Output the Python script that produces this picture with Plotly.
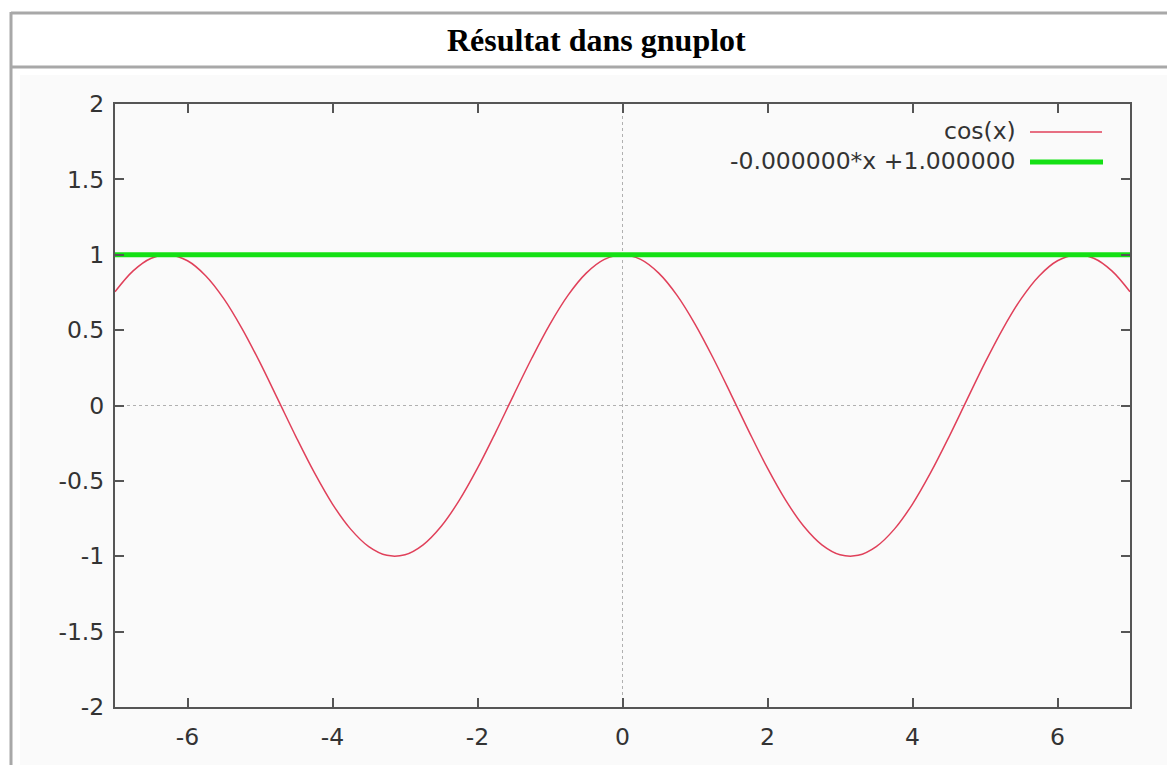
import plotly.graph_objects as go

# cos(x) sampled every 0.25 on [-7, 7]
x_cos = [-7.0, -6.75, -6.5, -6.25, -6.0, -5.75, -5.5, -5.25, -5.0, -4.75, -4.5, -4.25,
         -4.0, -3.75, -3.5, -3.25, -3.0, -2.75, -2.5, -2.25, -2.0, -1.75, -1.5, -1.25,
         -1.0, -0.75, -0.5, -0.25, 0.0, 0.25, 0.5, 0.75, 1.0, 1.25, 1.5, 1.75, 2.0, 2.25,
         2.5, 2.75, 3.0, 3.25, 3.5, 3.75, 4.0, 4.25, 4.5, 4.75, 5.0, 5.25, 5.5, 5.75, 6.0,
         6.25, 6.5, 6.75, 7.0]
y_cos = [0.754, 0.893, 0.977, 0.999, 0.960, 0.861, 0.709, 0.512, 0.284, 0.037, -0.211, -0.446,
         -0.654, -0.820, -0.936, -0.994, -0.990, -0.924, -0.801, -0.628, -0.416, -0.178, 0.071, 0.315,
         0.540, 0.732, 0.878, 0.969, 1.000, 0.969, 0.878, 0.732, 0.540, 0.315, 0.071, -0.178, -0.416, -0.628,
         -0.801, -0.924, -0.990, -0.994, -0.936, -0.820, -0.654, -0.446, -0.211, 0.037, 0.284, 0.512, 0.709, 0.861, 0.960,
         0.999, 0.977, 0.893, 0.754]

# fitted line: -0.000000*x + 1.000000
x_fit = [-7.0, 7.0]
y_fit = [1.0, 1.0]

x_tickvals = [-6, -4, -2, 0, 2, 4, 6]
x_ticktext = ["-6", "-4", "-2", "0", "2", "4", "6"]
y_tickvals = [-2, -1.5, -1, -0.5, 0, 0.5, 1, 1.5, 2]
y_ticktext = ["-2", "-1.5", "-1", "-0.5", "0", "0.5", "1", "1.5", "2"]

legend_labels = ["cos(x)", "-0.000000*x +1.000000"]
title_text = "Résultat dans gnuplot"

W, H = 1167, 765
L, R, T, B = 115, 1130, 104, 707

def px(x):
    return (x - L) / (R - L)

def py(y):
    return (B - y) / (B - T)

RED = "#e0405a"
GREEN = "#14e014"
AXIS = "#555555"
FONT = dict(family="DejaVu Sans", size=23.5, color="#333333")

fig = go.Figure()
fig.add_trace(go.Scatter(x=x_cos, y=y_cos, mode="lines", line=dict(color=RED, width=1.5, shape="spline"),
                         showlegend=False, hoverinfo="skip"))
fig.add_trace(go.Scatter(x=x_fit, y=y_fit, mode="lines", line=dict(color=GREEN, width=5),
                         showlegend=False, hoverinfo="skip"))

shapes = [
    # page background of the image
    dict(type="rect", xref="paper", yref="paper", x0=px(20), x1=px(W), y0=py(75), y1=py(H),
         fillcolor="#fafafa", line=dict(width=0), layer="below"),
    # table frame
    dict(type="line", xref="paper", yref="paper", x0=px(11), x1=px(11), y0=py(12), y1=py(H),
         line=dict(color="#a8a8a8", width=3)),
    dict(type="line", xref="paper", yref="paper", x0=px(11), x1=px(W), y0=py(13), y1=py(13),
         line=dict(color="#a8a8a8", width=3)),
    dict(type="line", xref="paper", yref="paper", x0=px(11), x1=px(W), y0=py(67), y1=py(67),
         line=dict(color="#a8a8a8", width=3)),
    # dotted zero axes
    dict(type="line", xref="x", yref="y", x0=0, x1=0, y0=-2, y1=2,
         line=dict(color="#b0b0b0", width=1, dash="dot"), layer="below"),
    dict(type="line", xref="x", yref="y", x0=-7, x1=7, y0=0, y1=0,
         line=dict(color="#b0b0b0", width=1, dash="dot"), layer="below"),
    # key samples
    dict(type="line", xref="paper", yref="paper", x0=px(1030), x1=px(1102), y0=py(132), y1=py(132),
         line=dict(color=RED, width=1.5)),
    dict(type="line", xref="paper", yref="paper", x0=px(1030), x1=px(1103), y0=py(162), y1=py(162),
         line=dict(color=GREEN, width=5)),
]

annotations = [
    dict(text="<b>" + title_text + "</b>", xref="paper", yref="paper", x=px(596), y=py(40),
         xanchor="center", yanchor="middle", showarrow=False,
         font=dict(family="Liberation Serif", size=32, color="#000000")),
    dict(text=legend_labels[0], xref="paper", yref="paper", x=px(1018), y=py(131),
         xanchor="right", yanchor="middle", showarrow=False, font=FONT),
    dict(text=legend_labels[1], xref="paper", yref="paper", x=px(1018), y=py(161),
         xanchor="right", yanchor="middle", showarrow=False, font=FONT),
]

axis_common = dict(showgrid=False, zeroline=False, showline=True, linecolor=AXIS, linewidth=2,
                   mirror="ticks", ticks="inside", ticklen=9, tickcolor=AXIS, tickwidth=2,
                   tickfont=FONT)

fig.update_layout(
    width=W, height=H,
    margin=dict(l=L, r=W - R, t=T, b=H - B),
    paper_bgcolor="#ffffff",
    plot_bgcolor="rgba(0,0,0,0)",
    shapes=shapes,
    annotations=annotations,
    xaxis=dict(range=[-7, 7], tickvals=x_tickvals, ticktext=x_ticktext, ticklabelstandoff=8, **axis_common),
    yaxis=dict(range=[-2, 2], tickvals=y_tickvals, ticktext=y_ticktext, ticklabelstandoff=4, **axis_common),
)

fig.write_html("out.html")
